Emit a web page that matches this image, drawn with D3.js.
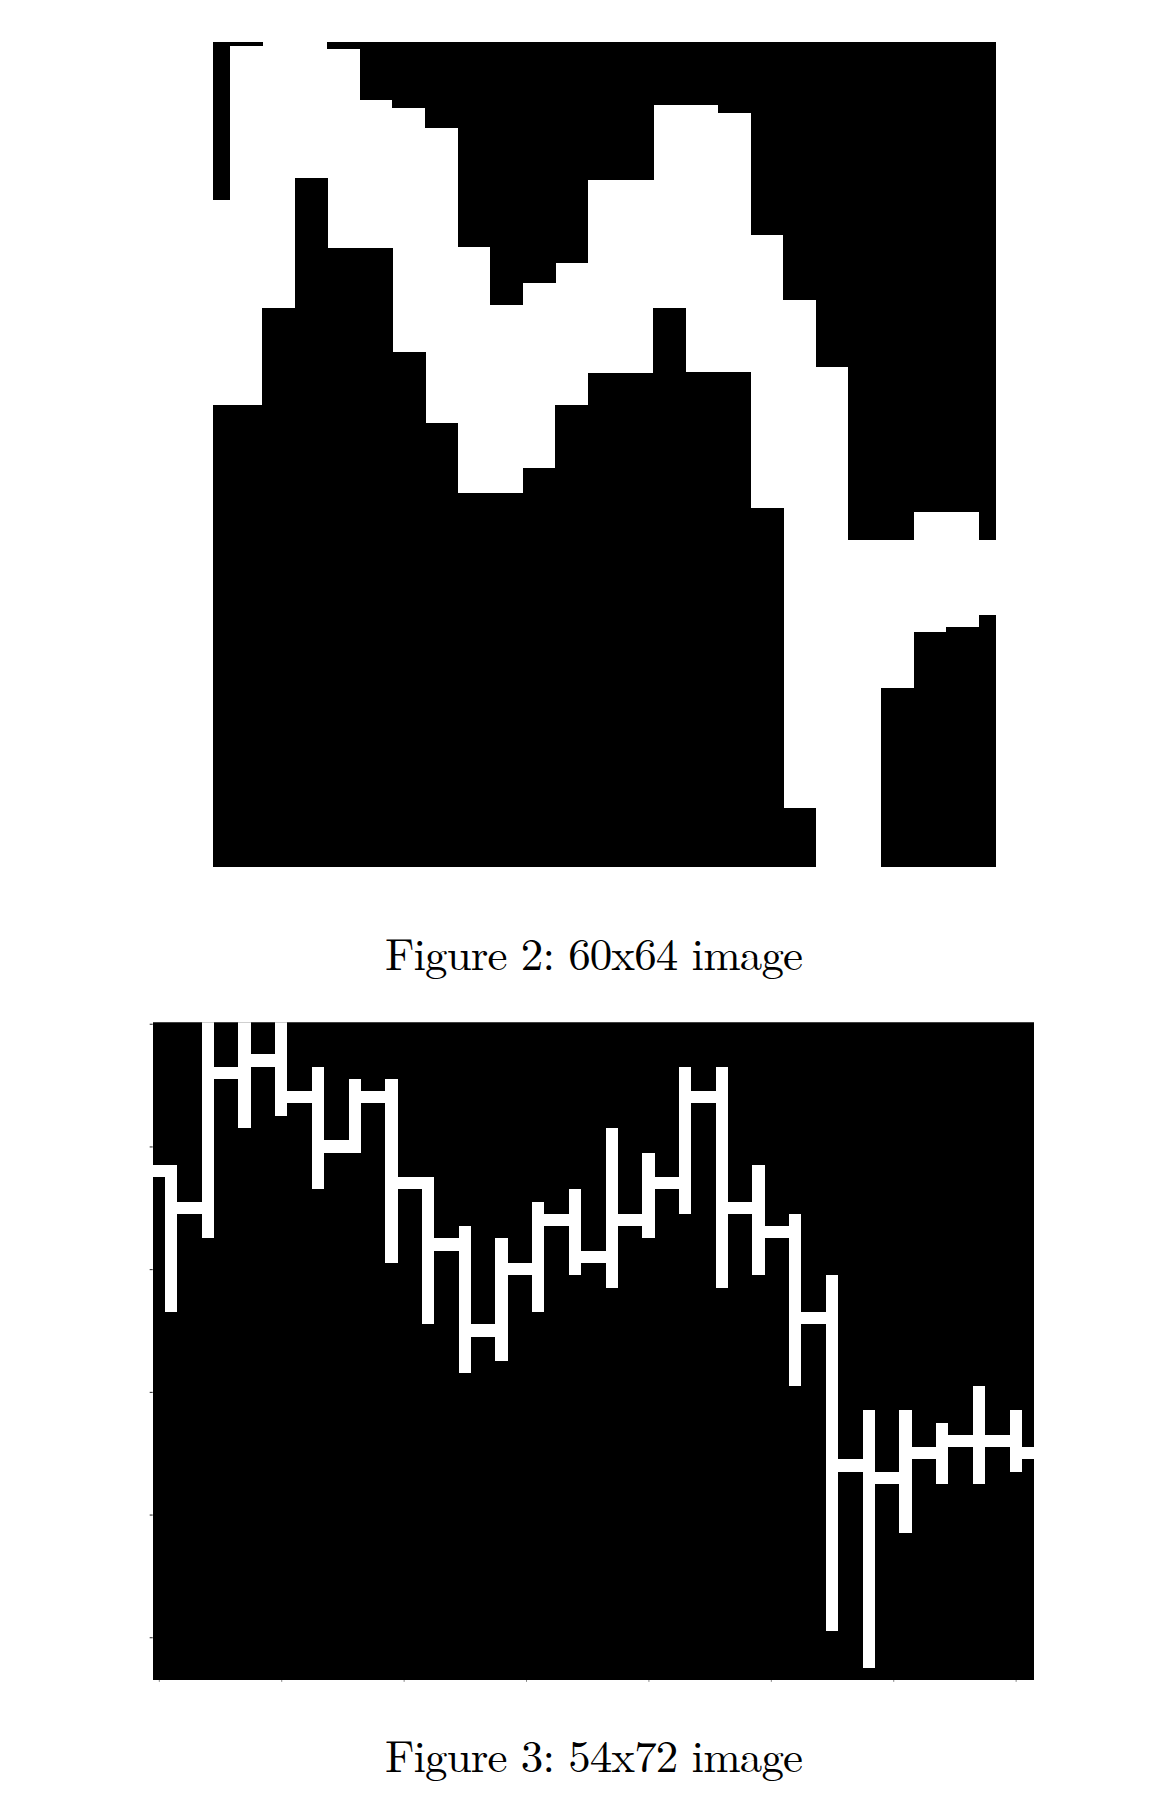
<!DOCTYPE html>
<html lang="en">
<head>
    <meta charset="UTF-8">
    <title>figures</title>
    <script src="https://cdn.jsdelivr.net/npm/d3@7"></script>
    <style>
        body{
            margin: 0;
            background: white;
        }
        .caption{
            font-family: "Latin Modern Roman", "CMU Serif", "Liberation Serif", serif;
            font-size: 45px;
            fill: black;
        }
    </style>
</head>
<body>
</body>
<script type="text/javascript">

    // figure 2: 60x64 image, white band per step (image pixel units, top / bottom of the band)
    let fig2Steps = d3.range(25);
    let fig2BandTop = [12.3, 0.3, 0, 0, 0.6, 4.52, 5.14, 6.72, 15.9, 20.42, 18.74, 17.19, 10.73,
                       10.73, 4.91, 4.91, 5.55, 14.99, 20.03, 25.2, 38.64, 38.64, 36.45, 36.45, 38.64];
    let fig2BandBottom = [28.17, 28.17, 20.65, 10.59, 16.0, 16.0, 24.04, 29.59, 35.02, 35.02, 33.08, 28.17, 25.72,
                          25.72, 20.67, 25.59, 25.59, 36.18, 59.45, 64, 64, 50.14, 45.75, 45.37, 44.46];

    // figure 3: 54x72 image, 24 OHLC bars (pixel rows, 0 = top)
    let fig3Bars = d3.range(24);
    let fig3High  = [12, 0, 0, 0, 4, 5, 5, 13, 17, 18, 15, 14, 9, 11, 4, 4, 12, 16, 21, 32, 32, 33, 30, 32];
    let fig3Low   = [23, 17, 8, 7, 13, 10, 19, 24, 28, 27, 23, 20, 21, 17, 15, 21, 20, 29, 49, 52, 41, 37, 37, 36];
    let fig3Open  = [12, 15, 4, 3, 6, 10, 6, 13, 18, 25, 20, 16, 19, 16, 13, 6, 15, 17, 24, 36, 37, 35, 34, 34];
    let fig3Close = [15, 4, 3, 6, 10, 6, 13, 18, 25, 20, 16, 19, 16, 13, 6, 15, 17, 24, 36, 37, 35, 34, 34, 35];
    let fig3Ticks = [0, 10, 20, 30, 40, 50];
    let fig3XTicks = [0, 10, 20, 30, 40, 50, 60, 70];

    let captions = ["Figure 2: 60x64 image", "Figure 3: 54x72 image"];

    let width = 1172;
    let height = 1804;

    let svg = d3.select("body")
        .append("svg")
        .attr("width", width)
        .attr("height", height);

    svg.append("rect")
        .attr("width", width)
        .attr("height", height)
        .attr("fill", "white");

    // ---------- figure 2 ----------
    let x2 = d3.scaleLinear().domain([0, 60]).range([213.3, 995]);
    let y2 = d3.scaleLinear().domain([0, 64]).range([41.7, 867]);
    let stepW = 2.5;

    let fig2 = svg.append("g").attr("class", "fig2").attr("shape-rendering", "crispEdges");

    let stepLeft = k => x2(Math.max(0, k * stepW - stepW / 2));
    let stepRight = k => x2(Math.min(60, k * stepW + stepW / 2));

    // black above the band
    fig2.selectAll("rect.upper")
        .data(fig2Steps.filter(k => fig2BandTop[k] > 0))
        .join("rect")
        .attr("class", "upper")
        .attr("x", k => stepLeft(k))
        .attr("width", k => stepRight(k) - stepLeft(k) + 0.5)
        .attr("y", y2(0))
        .attr("height", k => y2(fig2BandTop[k]) - y2(0))
        .attr("fill", "black");

    // black below the band
    fig2.selectAll("rect.lower")
        .data(fig2Steps.filter(k => fig2BandBottom[k] < 64))
        .join("rect")
        .attr("class", "lower")
        .attr("x", k => stepLeft(k))
        .attr("width", k => stepRight(k) - stepLeft(k) + 0.5)
        .attr("y", k => y2(fig2BandBottom[k]))
        .attr("height", k => y2(64) - y2(fig2BandBottom[k]))
        .attr("fill", "black");

    // ---------- figure 3 ----------
    let x3 = d3.scaleLinear().domain([-0.5, 71.5]).range([152.7, 1034]);
    let y3 = d3.scaleLinear().domain([-0.5, 53.5]).range([1017.6, 1680.2]);
    let imgTop = 1022.3;

    svg.append("clipPath")
        .attr("id", "clip3")
        .append("rect")
        .attr("x", x3(-0.5))
        .attr("y", imgTop)
        .attr("width", x3(71.5) - x3(-0.5))
        .attr("height", y3(53.5) - imgTop);

    let fig3 = svg.append("g").attr("class", "fig3");

    let axisY = d3.axisLeft(y3).tickValues(fig3Ticks).tickSize(3).tickFormat("");
    let axisYGroup = fig3.append("g")
        .attr("transform", `translate(${x3(-0.5)},0)`);
    axisY(axisYGroup);
    axisYGroup.select(".domain").remove();
    axisYGroup.selectAll("line").attr("stroke", "#222");

    let axisX = d3.axisBottom(x3).tickValues(fig3XTicks).tickSize(1.5).tickFormat("");
    let axisXGroup = fig3.append("g")
        .attr("transform", `translate(0,${y3(53.5)})`);
    axisX(axisXGroup);
    axisXGroup.select(".domain").remove();
    axisXGroup.selectAll("line").attr("stroke", "#666");

    let plot3 = fig3.append("g")
        .attr("clip-path", "url(#clip3)")
        .attr("shape-rendering", "crispEdges");

    plot3.append("rect")
        .attr("x", x3(-0.5))
        .attr("y", imgTop)
        .attr("width", x3(71.5) - x3(-0.5))
        .attr("height", y3(53.5) - imgTop)
        .attr("fill", "black");

    let px = x3(1) - x3(0);
    let py = y3(1) - y3(0);

    // high-low verticals
    plot3.selectAll("rect.hl")
        .data(fig3Bars)
        .join("rect")
        .attr("class", "hl")
        .attr("x", i => x3(3 * i + 1 - 0.5))
        .attr("width", px)
        .attr("y", i => y3(fig3High[i] - 0.5))
        .attr("height", i => y3(fig3Low[i] + 0.5) - y3(fig3High[i] - 0.5))
        .attr("fill", "white");

    // open ticks (left)
    plot3.selectAll("rect.open")
        .data(fig3Bars)
        .join("rect")
        .attr("class", "open")
        .attr("x", i => x3(3 * i - 0.5))
        .attr("width", px + 0.5)
        .attr("y", i => y3(fig3Open[i] - 0.5))
        .attr("height", py)
        .attr("fill", "white");

    // close ticks (right)
    plot3.selectAll("rect.close")
        .data(fig3Bars)
        .join("rect")
        .attr("class", "close")
        .attr("x", i => x3(3 * i + 2 - 0.5) - 0.5)
        .attr("width", px + 0.5)
        .attr("y", i => y3(fig3Close[i] - 0.5))
        .attr("height", py)
        .attr("fill", "white");

    // ---------- captions ----------
    let captionY = [970, 1771.7];
    svg.selectAll("text.caption")
        .data(captions)
        .join("text")
        .attr("class", "caption")
        .attr("x", 594)
        .attr("y", (d, i) => captionY[i])
        .attr("text-anchor", "middle")
        .attr("textLength", 418)
        .attr("lengthAdjust", "spacing")
        .text(d => d);

</script>
</html>
